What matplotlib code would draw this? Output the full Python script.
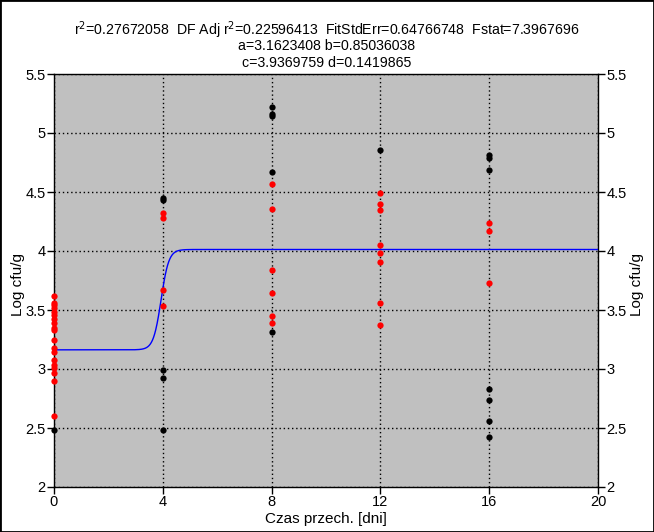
import numpy as np
import matplotlib
matplotlib.use("Agg")
import matplotlib.pyplot as plt
from matplotlib.patches import Rectangle

plt.rcParams['font.family'] = ['Liberation Sans', 'DejaVu Sans']

# --- data ---
black_x = [0, 4, 4, 4, 4, 4, 8, 8, 8, 8, 8, 12, 16, 16, 16, 16, 16, 16, 16]
black_y = [2.48, 4.45, 4.43, 2.99, 2.92, 2.48, 5.22, 5.16, 5.14, 4.67, 3.31,
           4.86, 4.81, 4.79, 4.69, 2.83, 2.74, 2.56, 2.42]
red_x = [0] * 19 + [4] * 4 + [8] * 6 + [12] * 8 + [16] * 3
red_y = [3.62, 3.56, 3.54, 3.52, 3.48, 3.42, 3.39, 3.35, 3.33, 3.25, 3.18, 3.14,
         3.08, 3.03, 3.01, 2.97, 2.90, 2.60, 3.46,
         4.32, 4.28, 3.67, 3.53,
         4.57, 4.36, 3.84, 3.64, 3.45, 3.39,
         4.49, 4.40, 4.35, 4.05, 3.98, 3.91, 3.56, 3.37,
         4.24, 4.17, 3.73]
a, b, c, d = 3.1623408, 0.85036038, 3.9369759, 0.1419865
title_lines = [
    r"r$^2$=0.27672058  DF Adj r$^2$=0.22596413  FitStdErr=0.64766748  Fstat=7.3967696",
    "a=3.1623408 b=0.85036038",
    "c=3.9369759 d=0.1419865",
]
xticks = [0, 4, 8, 12, 16, 20]
yticks = [2, 2.5, 3, 3.5, 4, 4.5, 5, 5.5]
ytick_labels = ["2", "2.5", "3", "3.5", "4", "4.5", "5", "5.5"]
xlabel = "Czas przech. [dni]"
ylabel = "Log cfu/g"

fig = plt.figure(figsize=(6.54, 5.32), dpi=100)
fig.patches.append(Rectangle((0, 0), 1, 1, transform=fig.transFigure,
                             fill=False, edgecolor='black', linewidth=2))
ax = fig.add_axes([54 / 654, 1 - 487 / 532, 544 / 654, 413 / 532])
ax.set_facecolor('#C0C0C0')
ax.set_xlim(0, 20)
ax.set_ylim(2, 5.5)

xs = np.linspace(0, 20, 2001)
ys = a + b / (1 + np.exp(-(xs - c) / d))
ax.plot(xs, ys, color='#0000FF', lw=1, zorder=3)

ax.plot(black_x, black_y, 'o', color='black', ms=4.5, mew=0, zorder=4, clip_on=False)
ax.plot(red_x, red_y, 'o', color='#FF0000', ms=4.5, mew=0, zorder=5, clip_on=False)

ax.set_xticks(xticks)
ax.set_xticklabels([str(t) for t in xticks])
ax.set_yticks(yticks)
ax.set_yticklabels(ytick_labels)
ax.tick_params(axis='both', direction='out', length=5, width=1, labelsize=10.5,
               colors='black', pad=1)
ax.tick_params(axis='y', right=True, labelright=True)
ax.grid(True, color='black', linestyle=(0, (1, 2)), linewidth=1)
for s in ax.spines.values():
    s.set_color('black')
    s.set_linewidth(1)

ax.set_xlabel(xlabel, fontsize=11, labelpad=2)
ax.set_ylabel(ylabel, fontsize=11)
ax.yaxis.set_label_coords(-29 / 544, 0.49)
fig.text(637 / 654, 1 - 285 / 532, ylabel, rotation=90, ha='center', va='center', fontsize=11)

for i, line in enumerate(title_lines):
    fig.text(0.5, 1 - (30 + 16.5 * i) / 532, line, ha='center', va='center', fontsize=10.2)

fig.savefig('out.png', dpi=100)
